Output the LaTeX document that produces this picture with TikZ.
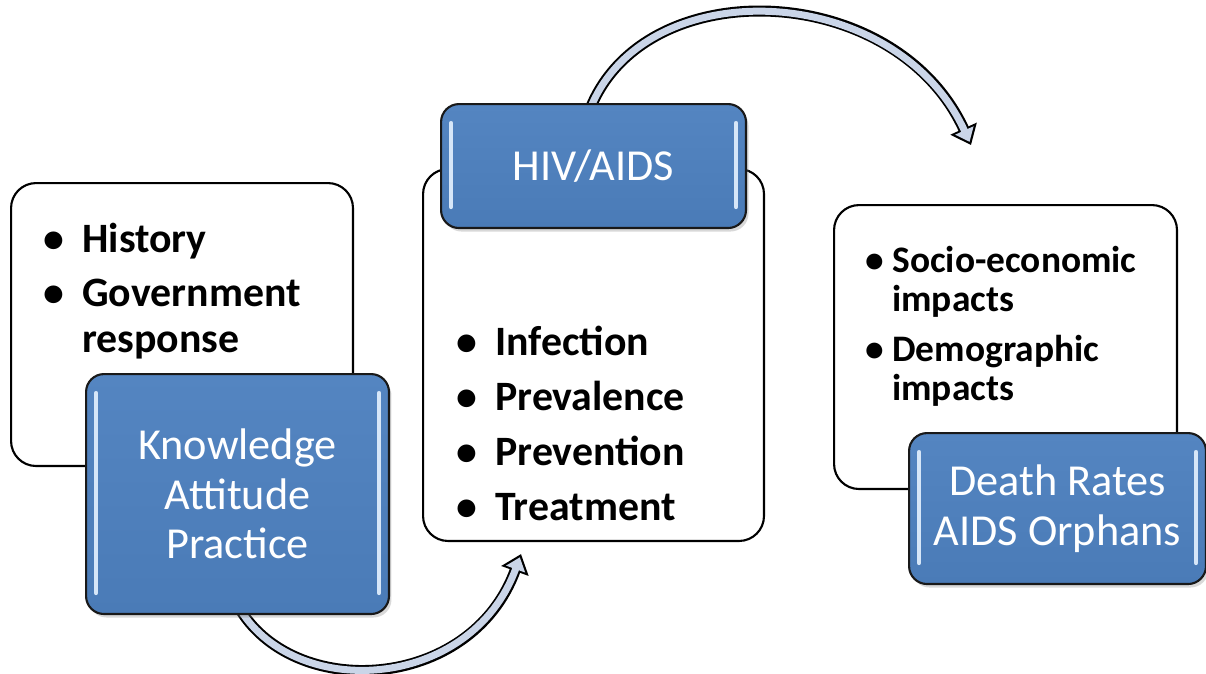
\documentclass[tikz,border=0pt]{standalone}
\usepackage{fontspec}
\setmainfont{Carlito}
\usetikzlibrary{arrows.meta,shadows,backgrounds}
\definecolor{boxbluetop}{HTML}{5485C1}
\definecolor{boxbluebot}{HTML}{4A7BB7}
\definecolor{arrowfill}{HTML}{CAD5E8}
\definecolor{hilite}{HTML}{D6E6F8}
\newcommand{\listfont}{\fontsize{23.8}{26.6}\selectfont\bfseries}
\newcommand{\smallfont}{\fontsize{21.3}{22.7}\selectfont\bfseries}
\newcommand{\bluefont}{\fontsize{25.2}{28.3}\selectfont}
\newcommand{\bul}[1]{\llap{\textbullet\hspace{#1}}}
\tikzset{
  whitebox/.style={draw=black, line width=1.2pt, fill=white, rounded corners=0.5cm,
    anchor=north west, inner sep=0pt},
  bluebox/.style={draw=black!90, line width=1.2pt, top color=boxbluetop, bottom color=boxbluebot,
    rounded corners=0.36cm, anchor=north west, text=white, align=center, font=\bluefont,
    drop shadow={shadow xshift=0.05cm, shadow yshift=-0.07cm, opacity=0.3},
    path picture={
      \draw[hilite, line width=2.4pt, line cap=round]
        ([xshift=0.2cm,yshift=-0.38cm]path picture bounding box.north west) --
        ([xshift=0.2cm,yshift=0.42cm]path picture bounding box.south west)
        ([xshift=-0.2cm,yshift=-0.38cm]path picture bounding box.north east) --
        ([xshift=-0.2cm,yshift=0.42cm]path picture bounding box.south east);
    }},
  itemtext/.style={anchor=base west, inner sep=0pt, font=\listfont},
  smalltext/.style={anchor=base west, inner sep=0pt, font=\smallfont},
  arrowrim/.style={line width=0.22cm, black, -{Triangle[length=0.36cm, width=0.56cm]}},
  arrowcore/.style={line width=0.14cm, arrowfill, shorten >=0.07cm,
    -{Triangle[length=0.25cm, width=0.39cm]}}
}
\begin{document}
\begin{tikzpicture}[x=0.02cm,y=-0.02cm]
  \useasboundingbox (0,0) rectangle (1206,673);
  % white boxes
  \node[whitebox, minimum width=6.84cm, minimum height=5.66cm] (lbox) at (10,182) {};
  \node[whitebox, minimum width=6.82cm, minimum height=7.44cm] (mbox) at (422,168) {};
  \node[whitebox, minimum width=6.86cm, minimum height=5.68cm] (rbox) at (833,204) {};
  % lists
  \node[itemtext] (hist) at (82,252) {\bul{0.36cm}History};
  \node[itemtext] (govt) at (82,306) {\begin{tabular}[t]{@{}l@{}}\bul{0.36cm}Government\\response\end{tabular}};
  \node[itemtext] (infe) at (495,355) {\bul{0.36cm}Infection};
  \node[itemtext] (prev) at (495,410) {\bul{0.36cm}Prevalence};
  \node[itemtext] (prvn) at (495,465) {\bul{0.36cm}Prevention};
  \node[itemtext] (trea) at (495,520) {\bul{0.36cm}Treatment};
  \node[smalltext] (soci) at (892,272) {\begin{tabular}[t]{@{}l@{}}\bul{0.17cm}Socio-economic\\impacts\end{tabular}};
  \node[smalltext] (demo) at (892,361) {\begin{tabular}[t]{@{}l@{}}\bul{0.17cm}Demographic\\impacts\end{tabular}};
  % blue boxes
  \node[bluebox, minimum width=6.06cm, minimum height=4.8cm] (kap) at (85,373) {Knowledge\\Attitude\\Practice};
  \node[bluebox, minimum width=6.1cm, minimum height=2.48cm] (hiv) at (440,103) {HIV/AIDS};
  \node[bluebox, minimum width=5.94cm, minimum height=3.02cm] (dra) at (908,432) {Death Rates\\AIDS Orphans};
  % curved arrows, behind the boxes
  \begin{pgfonlayer}{background}
    \coordinate (a1) at ([yshift=0.2cm]kap.south);
    \coordinate (a2) at ([xshift=-1.45cm,yshift=-0.24cm]mbox.south);
    \coordinate (a3) at ([xshift=-0.1cm,yshift=-0.2cm]hiv.north);
    \coordinate (a4) at ([xshift=-0.69cm,yshift=1.18cm]rbox.north);
    \draw[arrowrim] (a1) .. controls +(54,97) and +(-50,138) .. (a2);
    \draw[arrowcore] (a1) .. controls +(54,97) and +(-50,138) .. (a2);
    \draw[arrowrim] (a3) .. controls +(52,-143) and +(-76,-166) .. (a4);
    \draw[arrowcore] (a3) .. controls +(52,-143) and +(-76,-166) .. (a4);
  \end{pgfonlayer}
\end{tikzpicture}
\end{document}
